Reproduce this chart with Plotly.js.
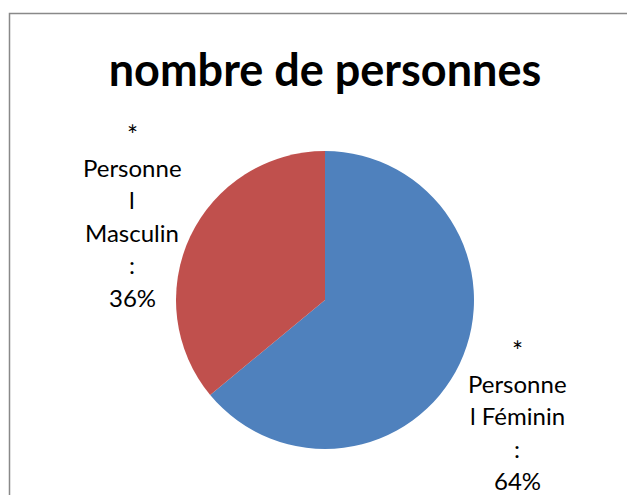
<!DOCTYPE html>
<html>
<head>
<meta charset="utf-8">
<script src="https://cdn.plot.ly/plotly-3.0.1.min.js"></script>
<style>
  html, body { margin: 0; padding: 0; background: #fff; }
  #chart { width: 627px; height: 495px; }
</style>
</head>
<body>
<div id="chart"></div>
<script>
// Data
const categories = ["Personnel Féminin", "Personnel Masculin"];
const values = [64, 36];
const colors = ["#4F81BD", "#C0504D"];
// label text as wrapped in the original (name lines, value appended)
const labelLines = [
  ["*", "Personne", "l Féminin", ":"],
  ["*", "Personne", "l", "Masculin", ":"]
];

const W = 627, H = 495;
const cx = 325, cy = 300, r = 149;

// Label placement (px): centre x and first line centre y
const labelPos = [
  { x: 517, y: 351 },
  { x: 132, y: 135 }
];
const lineH = 32.4;

const total = values.reduce((a, b) => a + b, 0);
const annotations = [];
labelLines.forEach((lines, i) => {
  const pct = Math.round(values[i] / total * 100) + "%";
  lines.concat([pct]).forEach((txt, j) => {
    annotations.push({
      text: txt,
      xref: "paper", yref: "paper",
      x: labelPos[i].x / W,
      y: 1 - (labelPos[i].y + j * lineH) / H,
      xanchor: "center", yanchor: "middle",
      showarrow: false,
      font: { family: "Lato, sans-serif", size: j === 0 ? 26 : 24, color: "#000" }
    });
  });
});

const trace = {
  type: "pie",
  labels: categories,
  values: values,
  sort: false,
  direction: "clockwise",
  rotation: 0,
  marker: { colors: colors, line: { width: 0 } },
  textinfo: "none",
  hoverinfo: "label+percent",
  domain: {
    x: [(cx - r) / W, (cx + r) / W],
    y: [1 - (cy + r) / H, 1 - (cy - r) / H]
  },
  showlegend: false
};

const layout = {
  width: W, height: H,
  margin: { l: 0, r: 0, t: 0, b: 0 },
  paper_bgcolor: "#fff",
  title: {
    text: "nombre de personnes",
    font: { family: "Lato, sans-serif", size: 45, weight: "bold", color: "#000" },
    x: 325 / W, xanchor: "center",
    y: 1 - 70 / H, yanchor: "middle",
    yref: "container"
  },
  annotations: annotations,
  shapes: [{
    type: "rect", xref: "paper", yref: "paper",
    x0: 9.5 / W, x1: 1.2, y0: -0.2, y1: 1 - 13.5 / H,
    line: { color: "#898989", width: 1.5 }
  }]
};

Plotly.newPlot("chart", [trace], layout, { displayModeBar: false, staticPlot: true });
</script>
</body>
</html>
